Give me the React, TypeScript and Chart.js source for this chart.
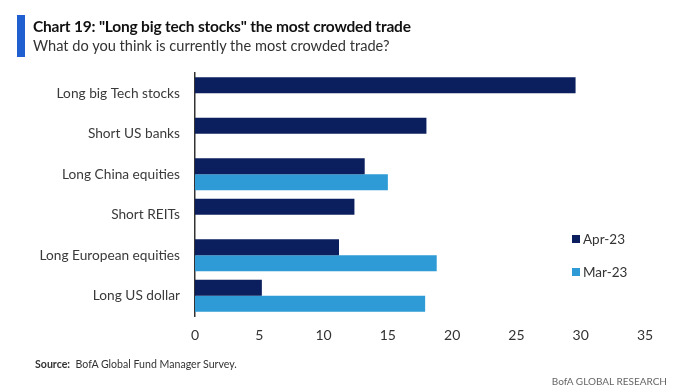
import React, { useEffect, useRef } from "react";
import { Chart, registerables } from "chart.js";

Chart.register(...registerables);

const categories = [
  "Long big Tech stocks",
  "Short US banks",
  "Long China equities",
  "Short REITs",
  "Long European equities",
  "Long US dollar",
];
const apr23 = [29.6, 18.0, 13.2, 12.4, 11.2, 5.2];
const mar23 = [null, null, 15.0, null, 18.8, 17.9];
const xTicks = [0, 5, 10, 15, 20, 25, 30, 35];

const NAVY = "#0b1f5e";
const LIGHT = "#2e9bd6";
const FONT = "Lato, 'Open Sans', sans-serif";

const legendPlugin = {
  id: "customLegend",
  afterDraw(chart: any) {
    const ctx = chart.ctx;
    const items = [
      { label: "Apr-23", color: NAVY, y: 239 },
      { label: "Mar-23", color: LIGHT, y: 272 },
    ];
    ctx.save();
    ctx.font = `13.5px ${FONT}`;
    ctx.textBaseline = "middle";
    ctx.textAlign = "left";
    for (const it of items) {
      ctx.fillStyle = it.color;
      ctx.fillRect(572, it.y - 4, 8, 8);
      ctx.fillStyle = "#333";
      ctx.fillText(it.label, 583, it.y + 0.5);
    }
    ctx.restore();
  },
};

export default function App() {
  const ref = useRef<HTMLCanvasElement>(null);
  useEffect(() => {
    if (!ref.current) return;
    const chart = new Chart(ref.current, {
      type: "bar",
      data: {
        labels: categories,
        datasets: [
          { label: "Apr-23", data: apr23, backgroundColor: NAVY, categoryPercentage: 0.79, barPercentage: 1 },
          { label: "Mar-23", data: mar23 as any, backgroundColor: LIGHT, categoryPercentage: 0.79, barPercentage: 1 },
        ],
      },
      options: {
        indexAxis: "y",
        animation: false,
        responsive: false,
        maintainAspectRatio: false,
        layout: { padding: { left: 0, right: 35, top: 73, bottom: 0 } },
        plugins: { legend: { display: false }, tooltip: { enabled: false }, title: { display: false } },
        scales: {
          x: {
            type: "linear",
            min: 0,
            max: 35,
            afterBuildTicks: (s: any) => {
              s.ticks = xTicks.map((v) => ({ value: v }));
            },
            afterFit: (s: any) => {
              s.height = 76;
            },
            grid: { display: false, drawTicks: false },
            border: { display: false },
            ticks: { color: "#333", font: { family: FONT, size: 14 }, padding: 11 },
          },
          y: {
            afterFit: (s: any) => {
              s.width = 195;
            },
            grid: { display: false, drawTicks: false },
            border: { display: true, color: "#333", width: 1.5 },
            ticks: { color: "#3a3a3a", font: { family: FONT, size: 13.7 }, padding: 15 },
          },
        },
      },
      plugins: [legendPlugin],
    });
    return () => chart.destroy();
  }, []);

  return (
    <div style={{ position: "fixed", left: 0, top: 0, width: 680, height: 392, background: "#fff", fontFamily: FONT, overflow: "hidden" }}>
      <canvas ref={ref} width={680} height={392} style={{ position: "absolute", left: 0, top: 0 }} />
      <div style={{ position: "absolute", left: 17, top: 15, width: 8, height: 42, background: "#1f5fcf" }} />
      <div style={{ position: "absolute", left: 33, top: 17, fontSize: 15.5, fontWeight: 700, color: "#111", letterSpacing: -0.2, whiteSpace: "nowrap" }}>
        Chart 19: "Long big tech stocks" the most crowded trade
      </div>
      <div style={{ position: "absolute", left: 33, top: 37, fontSize: 14.6, color: "#333", whiteSpace: "nowrap" }}>
        What do you think is currently the most crowded trade?
      </div>
      <div style={{ position: "absolute", left: 35, top: 358, fontSize: 10.6, color: "#333", whiteSpace: "nowrap" }}>
        <b>Source:</b>&nbsp; BofA Global Fund Manager Survey.
      </div>
      <div style={{ position: "absolute", right: 13, top: 375, fontSize: 10, color: "#666", whiteSpace: "nowrap" }}>
        BofA GLOBAL RESEARCH
      </div>
    </div>
  );
}
